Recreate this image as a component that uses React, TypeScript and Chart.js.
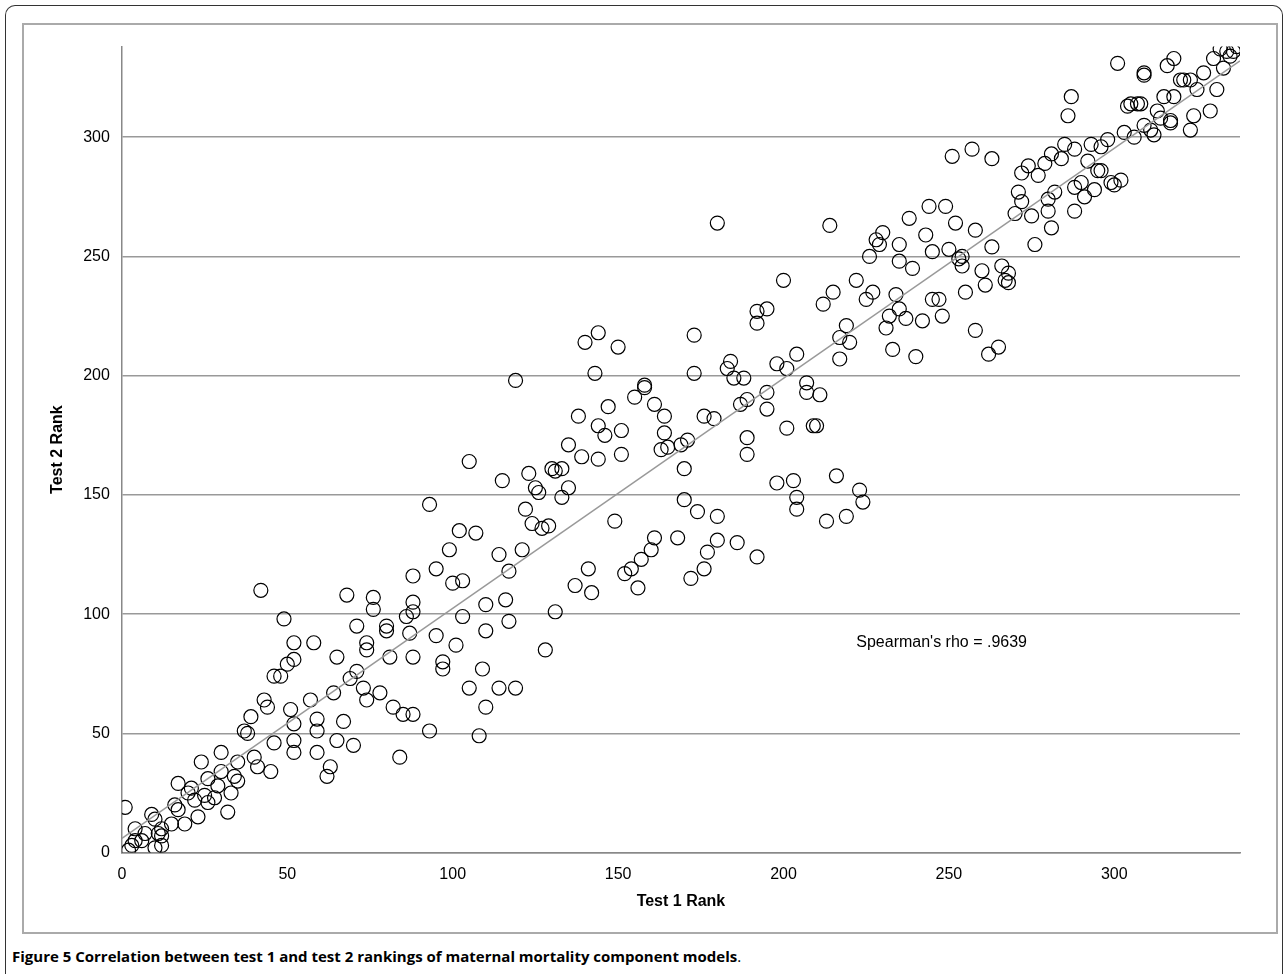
import { useEffect, useRef } from "react";
import { Chart, registerables } from "chart.js";

Chart.register(...registerables);

// [test 1 rank, test 2 rank]
const points: number[][] = [
  [1,19],[2,1],[3,3],[4,10],[4,5],[6,5],[7,8],[9,16],[10,2],[10,14],[11,8],[12,10],[12,3],[12,7],[15,12],[16,20],[17,29],[17,18],[19,12],[20,25],[21,27],[22,22],[23,15],[24,38],[25,24],[26,21],[26,31],[28,23],[29,28],[30,34],[30,42],[32,17],[33,25],[34,32],[35,38],[35,30],[37,51],[38,50],[39,57],[40,40],[41,36],[42,110],[43,64],[44,61],[45,34],[46,46],[46,74],[48,74],[49,98],[50,79],[51,60],[52,88],[52,81],[52,54],[52,47],[52,42],[57,64],[58,88],[59,56],[59,51],[59,42],[62,32],[63,36],[64,67],[65,82],[65,47],[67,55],[68,108],[69,73],[70,45],[71,95],[71,76],[73,69],[74,88],[74,85],[74,64],[76,107],[76,102],[78,67],[80,95],[80,93],[81,82],[82,61],[84,40],[85,58],[86,99],[87,92],[88,101],[88,105],[88,82],[88,58],[88,116],[93,51],[93,146],[95,119],[95,91],[97,80],[97,77],[99,127],[100,113],[101,87],[102,135],[103,99],[103,114],[105,164],[105,69],[107,134],[108,49],[109,77],[110,93],[110,104],[110,61],[114,125],[114,69],[115,156],[116,106],[117,118],[117,97],[119,198],[119,69],[121,127],[122,144],[123,159],[124,138],[125,153],[126,151],[127,136],[128,85],[129,137],[130,161],[131,101],[131,160],[133,149],[133,161],[135,171],[135,153],[137,112],[138,183],[139,166],[140,214],[141,119],[142,109],[143,201],[144,218],[144,165],[144,179],[146,175],[147,187],[149,139],[150,212],[151,177],[151,167],[152,117],[154,119],[155,191],[156,111],[157,123],[158,196],[158,195],[160,127],[161,132],[161,188],[163,169],[164,183],[164,176],[165,170],[168,132],[169,171],[170,148],[170,161],[171,173],[172,115],[173,217],[173,201],[174,143],[176,183],[176,119],[177,126],[179,182],[180,141],[180,131],[180,264],[183,203],[184,206],[185,199],[186,130],[187,188],[188,199],[189,190],[189,167],[189,174],[192,227],[192,222],[192,124],[195,228],[195,186],[195,193],[198,205],[198,155],[200,240],[201,178],[201,203],[203,156],[204,209],[204,149],[204,144],[207,197],[207,193],[209,179],[210,179],[211,192],[212,230],[213,139],[214,263],[215,235],[216,158],[217,216],[217,207],[219,221],[219,141],[220,214],[222,240],[223,152],[224,147],[225,232],[226,250],[227,235],[228,257],[229,255],[230,260],[231,220],[232,225],[233,211],[234,234],[235,255],[235,248],[235,228],[237,224],[238,266],[239,245],[240,208],[242,223],[243,259],[244,271],[245,252],[245,232],[247,232],[248,225],[249,271],[250,253],[251,292],[252,264],[253,249],[254,250],[254,246],[255,235],[257,295],[258,219],[258,261],[260,244],[261,238],[262,209],[263,291],[263,254],[265,212],[266,246],[267,240],[268,243],[268,239],[270,268],[271,277],[272,285],[272,273],[274,288],[275,267],[276,255],[277,284],[279,289],[280,269],[280,274],[281,293],[281,262],[282,277],[284,291],[285,297],[286,309],[287,317],[288,279],[288,269],[288,295],[290,281],[291,275],[292,290],[293,297],[294,278],[295,286],[296,286],[296,296],[298,299],[299,281],[300,280],[301,331],[302,282],[303,302],[304,313],[305,314],[306,300],[307,314],[308,314],[309,305],[309,326],[309,327],[311,303],[312,301],[313,311],[314,308],[315,317],[316,330],[317,306],[317,307],[318,333],[318,317],[320,324],[321,324],[323,324],[323,303],[324,309],[325,320],[327,327],[329,311],[330,333],[331,320],[332,337],[333,329],[334,336],[335,334],[336,336],[337,338]
];

const trendX = [0, 338];
const trendY = [6, 332];
const tickValues = [0, 50, 100, 150, 200, 250, 300];
const rhoLabel = "Spearman's rho = .9639";
const rhoAt = { x: 222, y: 88 };

const labelPlugin = {
  id: "rhoLabel",
  afterDatasetsDraw(chart: Chart) {
    const ctx = chart.ctx;
    const x = chart.scales.x.getPixelForValue(rhoAt.x);
    const y = chart.scales.y.getPixelForValue(rhoAt.y);
    ctx.save();
    ctx.fillStyle = "#000";
    ctx.font = "16px 'Liberation Sans', Arial, sans-serif";
    ctx.textBaseline = "middle";
    ctx.fillText(rhoLabel, x, y);
    ctx.restore();
  }
};

export default function App() {
  const canvasRef = useRef<HTMLCanvasElement | null>(null);

  useEffect(() => {
    if (!canvasRef.current) return;
    const font = { family: "'Liberation Sans', Arial, sans-serif", size: 16 };
    const chart = new Chart(canvasRef.current, {
      type: "scatter",
      data: {
        datasets: [
          {
            type: "line",
            data: trendX.map((x, i) => ({ x, y: trendY[i] })),
            borderColor: "#999",
            borderWidth: 1.5,
            pointRadius: 0
          },
          {
            data: points.map(([x, y]) => ({ x, y })),
            pointRadius: 7,
            pointBorderColor: "#000",
            pointBackgroundColor: "rgba(0,0,0,0)",
            pointBorderWidth: 1.2
          }
        ]
      },
      options: {
        animation: false,
        responsive: true,
        maintainAspectRatio: false,
        layout: { padding: { top: 15, right: 36, bottom: 17, left: 20 } },
        plugins: { legend: { display: false }, tooltip: { enabled: false } },
        scales: {
          x: {
            type: "linear",
            min: 0,
            max: 338,
            afterBuildTicks: (s: any) => {
              s.ticks = tickValues.map((v) => ({ value: v }));
            },
            grid: { display: false },
            border: { color: "#888", width: 1.5 },
            ticks: { color: "#000", font, padding: 4 },
            title: { display: true, text: "Test 1 Rank", color: "#000", font: { ...font, weight: "bold" } }
          },
          y: {
            type: "linear",
            min: 0,
            max: 338,
            afterBuildTicks: (s: any) => {
              s.ticks = tickValues.map((v) => ({ value: v }));
            },
            grid: { color: "#999", lineWidth: 1.5, drawTicks: false },
            border: { color: "#888", width: 1.5 },
            ticks: { color: "#000", font, padding: 12 },
            title: { display: true, text: "Test 2 Rank", color: "#000", font: { ...font, weight: "bold" } }
          }
        }
      },
      plugins: [labelPlugin]
    } as any);
    return () => chart.destroy();
  }, []);

  return (
    <div
      style={{
        position: "absolute",
        left: 5,
        top: 5,
        width: 1278,
        height: 980,
        boxSizing: "border-box",
        border: "1.5px solid #333",
        borderBottom: "none",
        borderRadius: "10px 10px 0 0",
        fontFamily: "'Open Sans', sans-serif"
      }}
    >
      <div
        style={{
          position: "absolute",
          left: 16,
          top: 17,
          width: 1256,
          height: 911,
          boxSizing: "border-box",
          border: "2px solid #aaa"
        }}
      >
        <canvas ref={canvasRef} />
      </div>
      <div style={{ position: "absolute", left: 6, top: 940, fontSize: 15, color: "#000" }}>
        <b>Figure 5 Correlation between test 1 and test 2 rankings of maternal mortality component models</b>.
      </div>
    </div>
  );
}
